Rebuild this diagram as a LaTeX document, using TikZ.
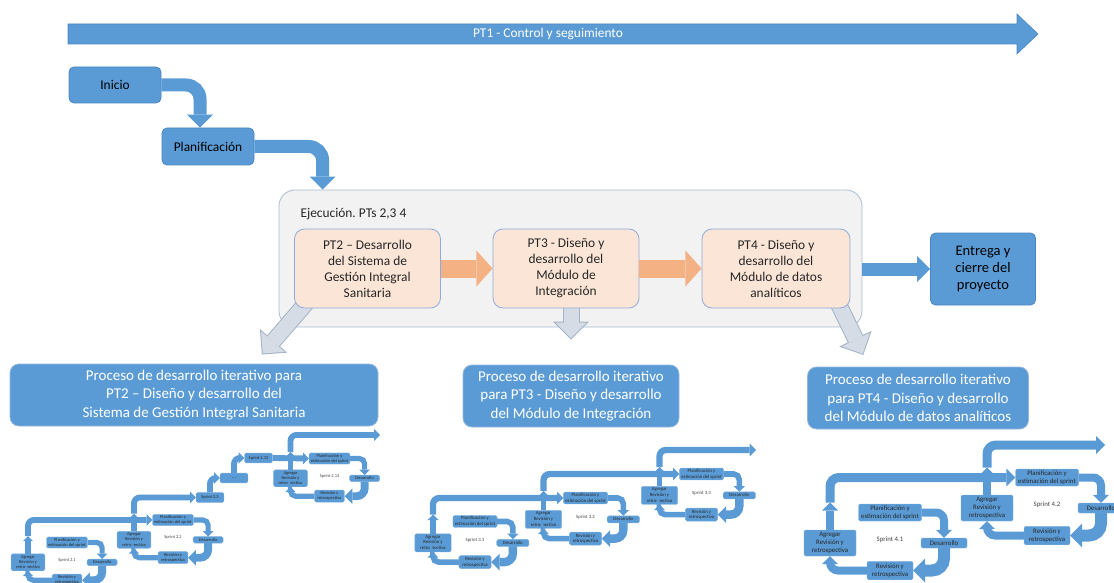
\documentclass[tikz,border=0pt]{standalone}
\usepackage{fontspec}
\setmainfont{Carlito}
\usetikzlibrary{arrows.meta}

\definecolor{sblue}{HTML}{5B9BD5}
\definecolor{bedge}{HTML}{4A86C5}
\definecolor{peach}{HTML}{FBE5D6}
\definecolor{pedge}{HTML}{8FAADC}
\definecolor{orng}{HTML}{F4B183}
\definecolor{lgray}{HTML}{F2F2F2}
\definecolor{gedge}{HTML}{A9BCD3}
\definecolor{lfill}{HTML}{D6DCE5}
\definecolor{ledge}{HTML}{A3B3C6}

\pgfdeclarelayer{back}
\pgfdeclarelayer{mid}
\pgfsetlayers{back,mid,main}

\frenchspacing

% one sprint loop: id, x, y (centre of the planning box), scale, label
\newcommand{\sprintloop}[5]{%
  \pgfmathsetmacro\sbw{8*#4}%
  \pgfmathsetmacro\sbwb{12*#4}%
  \begin{scope}[shift={(#2,#3)}, scale=#4, transform shape]
    \node[sbox, minimum width=63pt, minimum height=17pt] (p#1) at (0,0) {Planificación y\\estimación del sprint};
    \node[sbox, minimum width=46pt, minimum height=10pt] (d#1) at (54,30.5) {Desarrollo};
    \node[sbox, minimum width=46pt, minimum height=18.5pt] (r#1) at (0,58) {Revisión y\\retrospectiva};
    \node[sbox, minimum width=52pt, minimum height=26pt] (a#1) at (-60,30.5) {Agregar\\Revisión y\\retrospectiva};
    \node[slabel] (l#1) at (0,27) {#5};
    \coordinate (u#1) at (-60,-10);
  \end{scope}
  \draw[band=\sbw pt] (p#1.east) -| (d#1.north);
  \draw[band=\sbwb pt] (d#1.south) |- (r#1.east);
  \draw[band=\sbw pt] (r#1.west) -| (a#1.south);
  \draw[band=\sbw pt] (a#1.north) -- (u#1);
}

\begin{document}
\begin{tikzpicture}[
  x=1pt, y=-1pt,
  band/.style={draw=sblue, line width=#1, rounded corners=#1,
    -{Triangle[width=0pt 2 0, length=0pt 1 0, line width=0pt]}},
  bigband/.style={band=13pt, rounded corners=14pt},
  oband/.style={draw=orng, line width=18pt,
    -{Triangle[width=0pt 2 0, length=0pt .9 0, line width=0pt]}},
  lout/.style={draw=ledge, line width=17pt,
    -{Triangle[width=36pt, length=18pt, line width=0pt]}},
  lin/.style={draw=lfill, line width=15pt,
    -{Triangle[width=31.2pt, length=15.6pt, line width=0pt]}},
  sbox/.style={draw=sblue!80!white, line width=0.4pt, fill=sblue, rounded corners=1.5pt,
    align=center, inner sep=0.5pt, text=black!85, font=\fontsize{6.8}{8}\selectfont},
  slabel/.style={text=black!75, font=\fontsize{6.8}{8}\selectfont},
  bbox/.style={draw=bedge, fill=sblue, line width=0.8pt, rounded corners=5pt,
    align=center, text=black, font=\fontsize{13.4}{16}\selectfont},
  pbox/.style={draw=bedge!60!white, fill=sblue, line width=0.8pt, rounded corners=9pt,
    minimum height=62pt, align=center, text=white, font=\fontsize{15}{18.5}\selectfont},
  ptbox/.style={draw=pedge, fill=peach, line width=0.8pt, rounded corners=10pt,
    minimum width=146pt, minimum height=79pt, align=center, text=black!85,
    font=\fontsize{13.4}{16}\selectfont},
  exbox/.style={draw=gedge, fill=lgray, line width=0.8pt, rounded corners=16pt}
]
  \useasboundingbox (0,0) rectangle (1114,583);
  \clip (0,0) rectangle (1114,583);

  % PT1 arrow
  \fill[sblue, draw=bedge, line width=0.6pt] (68,24) -- (1017,24) -- (1017,14) -- (1038,34)
    -- (1017,54) -- (1017,44) -- (68,44) -- cycle;
  \node[text=white, font=\fontsize{13.4}{16}\selectfont] (pt1) at (548,34) {PT1 - Control y seguimiento};

  % main flow
  \node[bbox, minimum width=92pt, minimum height=36pt] (ini) at (115,85) {Inicio};
  \node[bbox, minimum width=92pt, minimum height=37pt] (pln) at (208,146.5) {Planificación};
  \begin{pgfonlayer}{back}
    \node[exbox, minimum width=583pt, minimum height=137pt] (exe) at (570.5,258.5) {};
  \end{pgfonlayer}
  \node[anchor=west, font=\fontsize{13.4}{16}\selectfont, text=black!85] (exl) at (297,214) {Ejecución. PTs 2,3 4};
  \node[ptbox] (pt2) at (367.5,268.5) {PT2 – Desarrollo\\del Sistema de\\Gestión Integral\\Sanitaria};
  \node[ptbox] (pt3) at (566,268.5) {PT3 - Diseño y\\desarrollo del\\Módulo de\\Integración};
  \node[ptbox, minimum width=148pt] (pt4) at (776,268.5) {PT4 - Diseño y\\desarrollo del\\Módulo de datos\\analíticos};
  \node[bbox, minimum width=105pt, minimum height=72pt, font=\fontsize{14.5}{17}\selectfont] (ent) at (983,269) {Entrega y\\cierre del\\proyecto};

  \node[pbox, minimum width=368pt] (pr2) at (194,395) {Proceso de desarrollo iterativo para\\PT2 – Diseño y desarrollo del\\Sistema de Gestión Integral Sanitaria};
  \node[pbox, minimum width=216pt] (pr3) at (571,396) {Proceso de desarrollo iterativo\\para PT3 - Diseño y desarrollo\\del Módulo de Integración};
  \node[pbox, minimum width=221pt] (pr4) at (918,398) {Proceso de desarrollo iterativo\\para PT4 - Diseño y desarrollo\\del Módulo de datos analíticos};

  \draw[bigband] (ini.east) -| ([shift={(-8,0)}]pln.north);
  \draw[bigband] (pln.east) -| ([shift={(44,0)}]exe.north west);
  \draw[bigband] (exe.east |- ent.west) -- (ent.west);
  \draw[oband] (pt2) -- (pt3);
  \draw[oband] (pt3) -- (pt4);

  \begin{pgfonlayer}{mid}
    \draw[lout, shorten >=12pt] ([shift={(23,-18)}]pt2.south west) -- ([shift={(60,0)}]pr2.north);
    \draw[lin, shorten >=13.4pt] ([shift={(23,-18)}]pt2.south west) -- ([shift={(60,0)}]pr2.north);
    \draw[lout, shorten >=7pt] ([shift={(5,-18)}]pt3.south) -- ([shift={(5,-18)}]pt3.south |- pr3.north);
    \draw[lin, shorten >=8.4pt] ([shift={(5,-18)}]pt3.south) -- ([shift={(5,-18)}]pt3.south |- pr3.north);
    \draw[lout, shorten >=13pt] ([shift={(-21,-23)}]pt4.south east) -- ([shift={(-49,0)}]pr4.north);
    \draw[lin, shorten >=14.4pt] ([shift={(-21,-23)}]pt4.south east) -- ([shift={(-49,0)}]pr4.north);
  \end{pgfonlayer}

  % sprints PT2
  \sprintloop{21}{67}{542.5}{0.65}{Sprint 2.1}
  \sprintloop{22}{173}{520}{0.65}{Sprint 2.2}
  \sprintloop{213}{329.5}{458.5}{0.65}{Sprint 2.13}
  \node[sbox, scale=0.65, minimum width=43pt, minimum height=15pt] (s23) at (210,497.5) {Sprint 2.3};
  \node[sbox, scale=0.65, minimum width=43pt, minimum height=15pt] (dots) at (234,478) {...};
  \node[sbox, scale=0.65, minimum width=43pt, minimum height=15pt] (s212) at (258.5,458) {Sprint 2.12};
  \coordinate (o2) at (380,435);
  \draw[band=5.85pt] (u21) |- (p22.west);
  \draw[band=5.85pt] (u22) |- (s23.west);
  \draw[band=5.85pt] (s23.north) |- (dots.west);
  \draw[band=5.85pt] (dots.north) |- (s212.west);
  \draw[band=5.85pt] (s212.east) -- (p213.west);
  \draw[band=5.85pt] (u213) |- (o2);

  % sprints PT3
  \sprintloop{31}{475}{521.5}{0.7}{Sprint 3.1}
  \sprintloop{32}{585.5}{498}{0.7}{Sprint 3.2}
  \sprintloop{33}{701.5}{474}{0.7}{Sprint 3.3}
  \coordinate (o3) at (756,450);
  \draw[band=6.3pt] (u31) |- (p32.west);
  \draw[band=6.3pt] (u32) |- (p33.west);
  \draw[band=6.3pt] (u33) |- (o3);

  % sprints PT4
  \sprintloop{41}{890}{512.5}{1}{Sprint 4.1}
  \sprintloop{42}{1047}{477.5}{1}{Sprint 4.2}
  \coordinate (o4) at (1105,445);
  \draw[band=9pt] (u41) |- (p42.west);
  \draw[band=9pt] (u42) |- (o4);
\end{tikzpicture}
\end{document}
